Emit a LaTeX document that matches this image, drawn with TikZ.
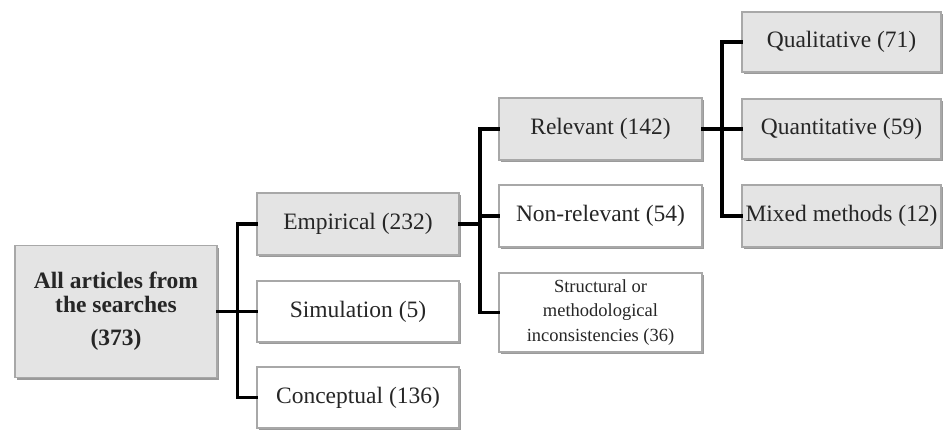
\documentclass[tikz,border=0pt]{standalone}
\usepackage{fontspec}
\setmainfont{Liberation Serif}
\usetikzlibrary{shadows}
\definecolor{boxgray}{HTML}{E4E4E4}
\definecolor{boxline}{HTML}{A8A8A8}
\definecolor{txt}{HTML}{262626}
\definecolor{shad}{HTML}{9A9A9A}
\tikzset{
  box/.style={draw=boxline, line width=1.4pt, rectangle, inner sep=0pt, align=center,
    text=txt, font=\fontsize{23.5}{26}\selectfont, minimum width=202pt, minimum height=62pt,
    drop shadow={shadow xshift=1.5pt, shadow yshift=-2.5pt, fill=shad, opacity=1}},
  graybox/.style={box, fill=boxgray},
  whitebox/.style={box, fill=white},
  link/.style={draw=black, line width=3.4pt, line cap=rect},
}
\begin{document}
\begin{tikzpicture}[x=1pt, y=-1pt]
\useasboundingbox[fill=white] (0,0) rectangle (943,430);
% column 1
\node[graybox, minimum width=202pt, minimum height=132pt, font=\fontsize{23.5}{23.5}\selectfont\bfseries] (root) at (116,311.5)
  {All articles from\\the searches\\[10pt](373)};
% column 2
\node[graybox] (emp) at (358,224) {Empirical (232)};
\node[whitebox, minimum height=61pt] (sim) at (358,311.5) {Simulation (5)};
\node[whitebox, minimum height=61pt] (con) at (358,397.5) {Conceptual (136)};
% column 3
\node[graybox, minimum width=203pt] (rel) at (600.5,129) {Relevant (142)};
\node[whitebox, minimum width=203pt] (non) at (600.5,216) {Non-relevant (54)};
\node[whitebox, minimum width=203pt, minimum height=79pt, font=\fontsize{18.5}{24.5}\selectfont] (str) at (600.5,312.5)
  {Structural or\\methodological\\inconsistencies (36)};
% column 4
\node[graybox, minimum width=199pt, minimum height=60pt] (qual) at (841.5,42) {Qualitative (71)};
\node[graybox, minimum width=199pt, minimum height=60pt] (quan) at (841.5,129) {Quantitative (59)};
\node[graybox, minimum width=199pt] (mix) at (841.5,216) {Mixed methods (12)};
% trunks
\coordinate (t1) at (237.5,0);
\coordinate (t2) at (480,0);
\coordinate (t3) at (722,0);
% connectors
\draw[link] (root.east) -- (sim.west);
\draw[link] (emp.west) -- (emp.west -| t1) -- (con.west -| t1) -- (con.west);
\draw[link] (emp.east) -- (emp.east -| t2);
\draw[link] (rel.west) -- (rel.west -| t2) -- (str.west -| t2) -- (str.west);
\draw[link] (non.west) -- (non.west -| t2);
\draw[link] (rel.east) -- (quan.west);
\draw[link] (qual.west) -- (qual.west -| t3) -- (mix.west -| t3) -- (mix.west);
\end{tikzpicture}
\end{document}
